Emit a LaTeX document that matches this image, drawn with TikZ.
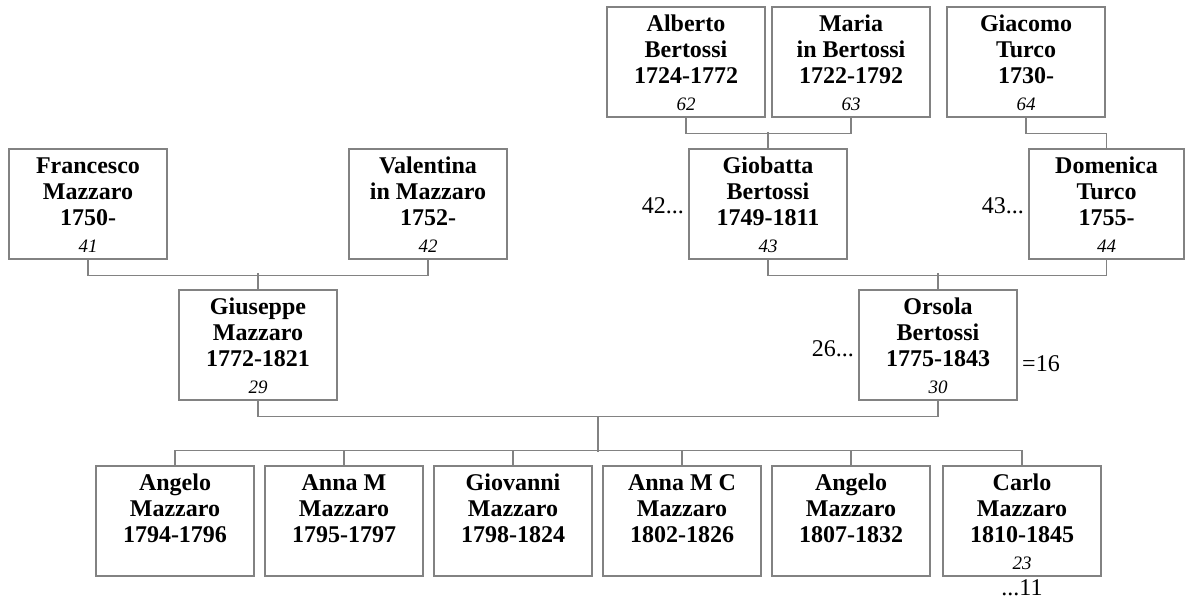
\documentclass[tikz,border=0pt]{standalone}
\usepackage{fontspec}
\setmainfont{Liberation Serif}
\usetikzlibrary{calc}
\definecolor{linegray}{RGB}{130,130,130}
\tikzset{
  pbox/.style={draw=linegray, line width=1.4pt, rectangle, minimum height=110pt, inner sep=0pt, fill=white},
  bt/.style={font=\fontsize{24}{26}\selectfont\bfseries, inner sep=0pt, anchor=base},
  nt/.style={font=\fontsize{19}{21}\selectfont\itshape, inner sep=0pt, anchor=base},
  rt/.style={font=\fontsize{24}{26}\selectfont, inner sep=0pt},
  conn/.style={draw=linegray, line width=1.4pt},
}
\newcommand\person[8][158]{%
  \node[pbox, minimum width=#1 pt] (#2) at ({#3+#1/2},{#4+55}) {};
  \node[bt] at ([yshift=-25pt]#2.north) {#5};
  \node[bt] at ([yshift=-51pt]#2.north) {#6};
  \node[bt] at ([yshift=-77pt]#2.north) {#7};
  \if\relax\detokenize{#8}\relax\else
  \node[nt] at ([yshift=-104pt]#2.north) {#8};
  \fi
}
\begin{document}
\begin{tikzpicture}[x=1pt,y=-1pt]
\useasboundingbox (0,0) rectangle (1185,603);
% ancestors
\person{alb}{607}{7}{Alberto}{Bertossi}{1724-1772}{62}
\person{mar}{772}{7}{Maria}{in Bertossi}{1722-1792}{63}
\person{gia}{947}{7}{Giacomo}{Turco}{1730-}{64}
\person{fra}{9}{149}{Francesco}{Mazzaro}{1750-}{41}
\person{val}{349}{149}{Valentina}{in Mazzaro}{1752-}{42}
\person{giob}{689}{149}{Giobatta}{Bertossi}{1749-1811}{43}
\person[155]{dom}{1029}{149}{Domenica}{Turco}{1755-}{44}
\person{gius}{179}{290}{Giuseppe}{Mazzaro}{1772-1821}{29}
\person{ors}{859}{290}{Orsola}{Bertossi}{1775-1843}{30}
% children
\person{c1}{96}{466}{Angelo}{Mazzaro}{1794-1796}{}
\person{c2}{265}{466}{Anna M}{Mazzaro}{1795-1797}{}
\person{c3}{434}{466}{Giovanni}{Mazzaro}{1798-1824}{}
\person{c4}{603}{466}{Anna M C}{Mazzaro}{1802-1826}{}
\person{c5}{772}{466}{Angelo}{Mazzaro}{1807-1832}{}
\person{c6}{943}{466}{Carlo}{Mazzaro}{1810-1845}{23}
% side labels
\node[rt, anchor=base east] (l42) at (684,213) {42...};
\node[rt, anchor=base east] (l43) at (1024,213) {43...};
\node[rt, anchor=base east] (l26) at (854,356) {26...};
\node[rt, anchor=base west] (l16) at (1022,371) {=16};
\node[rt, anchor=base] (l11) at (c6.south |- 0,595) {...11};
% connectors
\draw[conn] (alb.south) -- ++(0,16) -| (mar.south);
\draw[conn] (giob.north) -- ++(0,-16);
\draw[conn] (gia.south) -- ++(0,16) -| (dom.north);
\draw[conn] (giob.south) -- ++(0,16) -| (dom.south);
\draw[conn] (ors.north) -- ++(0,-16);
\draw[conn] (fra.south) -- ++(0,16) -| (val.south);
\draw[conn] (gius.north) -- ++(0,-16);
\draw[conn] (gius.south) -- ++(0,16) -| (ors.south);
\coordinate (famtop) at ($(gius.south)!0.5!(ors.south)+(0,16)$);
\coordinate (fambar) at ($(famtop)+(0,35)$);
\draw[conn] (famtop) -- (fambar);
\draw[conn] (c1.north) -- ++(0,-15) -| (c6.north);
\draw[conn] (c2.north) -- ++(0,-15);
\draw[conn] (c3.north) -- ++(0,-15);
\draw[conn] (c4.north) -- ++(0,-15);
\draw[conn] (c5.north) -- ++(0,-15);
\end{tikzpicture}
\end{document}
